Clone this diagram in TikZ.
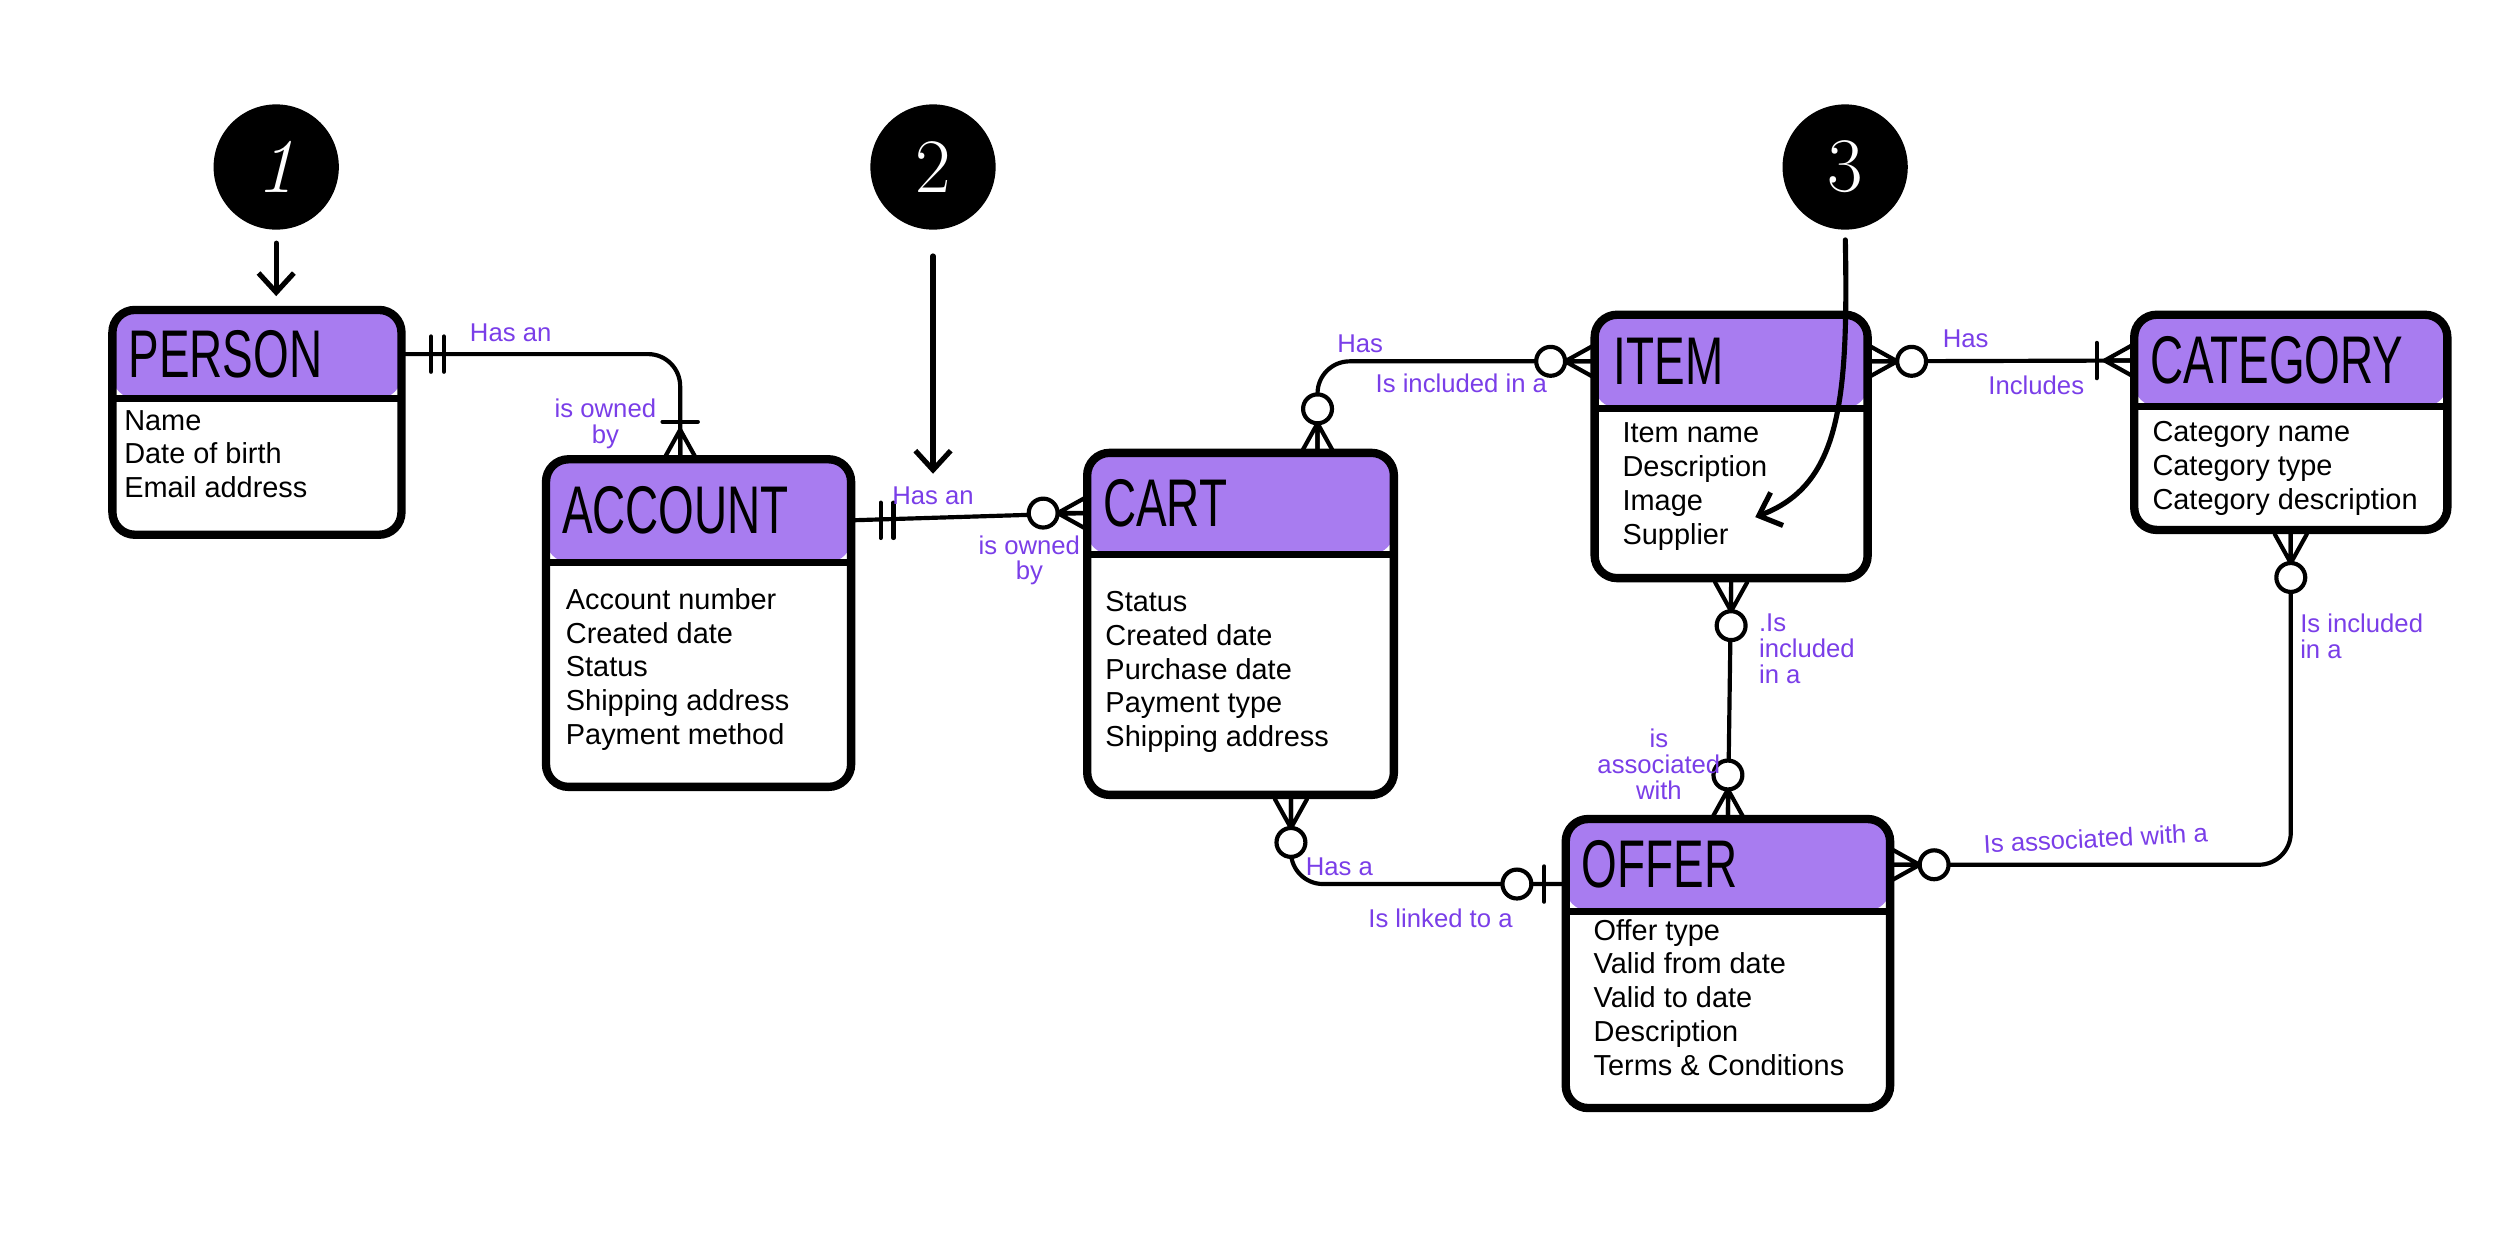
\documentclass[tikz,border=0pt]{standalone}
\usepackage{fontspec}
\newfontfamily\handfont{Liberation Sans}
\newfontfamily\titlefont[FakeStretch=0.68]{Liberation Sans}
\usetikzlibrary{arrows.meta, calc, fit}

\definecolor{headpurple}{RGB}{168,124,240}
\definecolor{notepurple}{RGB}{122,62,232}

\tikzset{
  pics/zeromany/.style={code={
    \draw[rel] (-18,0) -- (0,10) (-18,0) -- (0,0) (-18,0) -- (0,-10);
    \draw[rel, fill=white] (-27,0) circle[radius=4.5pt];}},
  pics/onemany/.style={code={
    \draw[rel] (-18,0) -- (0,10) (-18,0) -- (0,0) (-18,0) -- (0,-10);
    \draw[rel] (-23,-11) -- (-23,11);}},
  pics/onlyone/.style={code={
    \draw[rel] (-18,-11) -- (-18,11) (-26,-11) -- (-26,11);}},
  pics/zeroone/.style={code={
    \draw[rel] (-13,-11) -- (-13,11);
    \draw[rel, fill=white] (-30,0) circle[radius=4.5pt];}},
}

\begin{document}
\begin{tikzpicture}[x=0.5pt, y=-0.5pt,
    head/.style={fill=headpurple, rounded corners=7pt, inner sep=0pt},
    frame/.style={draw, line width=2.6pt, rounded corners=7pt, inner sep=0pt},
    sepline/.style={line width=2.2pt},
    title/.style={font={\titlefont\fontsize{21}{21}\selectfont}, anchor=west, inner sep=0pt},
    attrs/.style={font={\handfont\fontsize{9}{10.5}\selectfont}, align=left, anchor=north west, inner sep=0pt},
    note/.style={font={\handfont\fontsize{8}{8}\selectfont}, text=notepurple, inner sep=0pt, align=center},
    rel/.style={line width=1.3pt, line cap=round},
    badge/.style={circle, fill=black, text=white, minimum size=39pt, inner sep=0pt, font=\fontsize{24}{24}\selectfont},
    pointer/.style={line width=1.6pt, line cap=round, -{Straight Barb[length=6pt, width=11pt]}},
  ]
  \useasboundingbox (0,0) rectangle (1568,781);

  % entities
  \node[head, fit={(70,193) (250,248)}] (person) {};
  \node[frame, fit={(70,193) (250,333)}] (personbox) {};
  \draw[sepline] (person.south west) -- (person.south east);
  \node[title] at ([xshift=5pt]person.west) {PERSON};
  \node[attrs] at (77,255) {Name\\Date of birth\\Email address};

  \node[head, fit={(340,286) (530,350)}] (account) {};
  \node[frame, fit={(340,286) (530,490)}] (accountbox) {};
  \draw[sepline] (account.south west) -- (account.south east);
  \node[title] at ([xshift=5pt]account.west) {ACCOUNT};
  \node[attrs] at (352,366) {Account number\\Created date\\Status\\Shipping address\\Payment method};

  \node[head, fit={(677,282) (868,345)}] (cart) {};
  \node[frame, fit={(677,282) (868,495)}] (cartbox) {};
  \draw[sepline] (cart.south west) -- (cart.south east);
  \node[title] at ([xshift=5pt]cart.west) {CART};
  \node[attrs] at (688,368) {Status\\Created date\\Purchase date\\Payment type\\Shipping address};

  \node[head, fit={(993,196) (1163,254)}] (item) {};
  \node[frame, fit={(993,196) (1163,360)}] (itembox) {};
  \draw[sepline] (item.south west) -- (item.south east);
  \node[title] at ([xshift=6pt]item.west) {ITEM};
  \node[attrs] at (1010,263) {Item name\\Description\\Image\\Supplier};

  \node[head, fit={(1329,196) (1524,253)}] (category) {};
  \node[frame, fit={(1329,196) (1524,330)}] (categorybox) {};
  \draw[sepline] (category.south west) -- (category.south east);
  \node[title] at ([xshift=5pt]category.west) {CATEGORY};
  \node[attrs] at (1340,262) {Category name\\Category type\\Category description};

  \node[head, fit={(975,510) (1177,567)}] (offer) {};
  \node[frame, fit={(975,510) (1177,690)}] (offerbox) {};
  \draw[sepline] (offer.south west) -- (offer.south east);
  \node[title] at ([xshift=5pt]offer.west) {OFFER};
  \node[attrs] at (992,572) {Offer type\\Valid from date\\Valid to date\\Description\\Terms \& Conditions};

  % relationships
  \coordinate (accountN) at ($(account.north west)!0.44!(account.north east)$);
  \coordinate (accountE) at ([yshift=-3pt]account.east);
  \coordinate (cartW) at ([yshift=-3pt]cart.west);
  \coordinate (cartN) at ($(cart.north west)!0.75!(cart.north east)$);
  \coordinate (cartS) at ($(cartbox.south west)!0.66!(cartbox.south east)$);
  \coordinate (offerW) at ([yshift=-6pt]offer.west);

  \draw[rel, rounded corners=10pt] (person.east) -| (accountN);
  \pic[rotate=180] at (person.east) {onlyone};
  \pic[rotate=-90] at (accountN) {onemany};

  \draw[rel] (accountE) -- (cartW);
  \pic[rotate=180] at (accountE) {onlyone};
  \pic at (cartW) {zeromany};

  \draw[rel, rounded corners=10pt] (cartN) |- (item.west);
  \pic[rotate=-90] at (cartN) {zeromany};
  \pic at (item.west) {zeromany};

  \draw[rel] (item.east) -- (category.west);
  \pic[rotate=180] at (item.east) {zeromany};
  \pic at (category.west) {onemany};

  \draw[rel] (itembox.south) -- (offer.north);
  \pic[rotate=90] at (itembox.south) {zeromany};
  \pic[rotate=-90] at (offer.north) {zeromany};

  \draw[rel, rounded corners=10pt] (cartS) |- (offerW);
  \pic[rotate=90] at (cartS) {zeromany};
  \pic at (offerW) {zeroone};

  \draw[rel, rounded corners=10pt] (offer.east) -| (categorybox.south);
  \pic[rotate=180] at (offer.east) {zeromany};
  \pic[rotate=90] at (categorybox.south) {zeromany};

  % relationship names
  \node[note] (hasan1) at (318,207) {Has an};
  \node[note] (ownedby1) at (377,264) {is owned\\by};
  \node[note] (hasan2) at (581,309) {Has an};
  \node[note] (ownedby2) at (641,349) {is owned\\by};
  \node[note] (has1) at (847,214) {Has};
  \node[note] (includedin1) at (910,239) {Is included in a};
  \node[note] (has2) at (1224,211) {Has};
  \node[note] (includes) at (1268,240) {Includes};
  \node[note, anchor=north west, align=left] (includedin2) at (1095,382) {.Is\\included\\in a};
  \node[note] (associated1) at (1033,476) {is\\associated\\with};
  \node[note] (hasa) at (834,540) {Has a};
  \node[note] (linkedto) at (897,572) {Is linked to a};
  \node[note, rotate=3] (associated2) at (1305,522) {Is associated with a};
  \node[note, anchor=north west, align=left] (includedin3) at (1432,382) {Is included\\in a};

  % numbered callouts
  \node[badge] (one) at (172,104) {\itshape 1};
  \node[badge] (two) at (581,104) {2};
  \node[badge] (three) at (1149,104) {3};
  \coordinate (imagept) at (1093,322);

  \draw[pointer, shorten <=4pt, shorten >=3pt] (one.south) -- (one.south |- personbox.north);
  \draw[pointer, shorten <=8pt, shorten >=4pt] (two.south) -- (two.south |- hasan2.north);
  \draw[pointer, shorten <=3pt] (three.south) .. controls (1151,250) and (1146,302) .. (imagept);
\end{tikzpicture}
\end{document}
